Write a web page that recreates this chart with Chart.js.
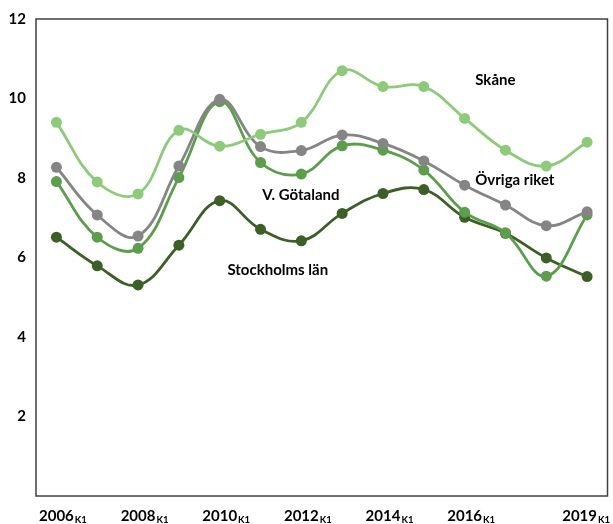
<!DOCTYPE html>
<html>
<head>
<meta charset="utf-8">
<script src="https://cdn.jsdelivr.net/npm/chart.js@4"></script>
<style>
  html, body { margin: 0; padding: 0; background: #fff; }
  #wrap { width: 613px; height: 524px; position: relative; }
</style>
</head>
<body>
<div id="wrap"><canvas id="lineChart"></canvas></div>
<script>
// years on the x axis (K1 = first quarter)
var years = ['2006','2007','2008','2009','2010','2011','2012','2013','2014','2015','2016','2017','2018','2019'];
var shownYears = ['2006','2008','2010','2012','2014','2016','2019'];
var yTicks = [2, 4, 6, 8, 10, 12];

var skane    = [9.4, 7.9, 7.6, 9.2, 8.8, 9.1, 9.4, 10.7, 10.3, 10.3, 9.5, 8.7, 8.3, 8.9];
var ovriga   = [8.27, 7.07, 6.54, 8.3, 9.98, 8.79, 8.69, 9.08, 8.87, 8.43, 7.82, 7.32, 6.8, 7.15];
var vGotaland = [7.91, 6.51, 6.23, 8.01, 9.92, 8.39, 8.1, 8.81, 8.7, 8.2, 7.14, 6.62, 5.53, 7.07];
var stockholm = [6.51, 5.79, 5.31, 6.31, 7.43, 6.71, 6.42, 7.11, 7.61, 7.71, 7.01, 6.61, 5.99, 5.52];

var seriesNames = ['Skåne', 'Övriga riket', 'V. Götaland', 'Stockholms län'];
var seriesColors = ['#8dcb7b', '#858585', '#5c9e4b', '#3b5f27'];

// where the series names sit: [year index, value]
var nameSpots = [[10.26, 10.45], [10.26, 7.95], [5.04, 7.57], [4.19, 5.69]];

var FONT = 'Lato, "Open Sans", sans-serif';

function makeSet(label, values, color) {
    return {
        label: label,
        data: values,
        borderColor: color,
        backgroundColor: color,
        borderWidth: 2.8,
        pointRadius: 5.5,
        pointHoverRadius: 5.5,
        pointBorderWidth: 0,
        tension: 0.4,
        fill: false
    };
}

// frame around plot, x labels with subscript, series names
var extras = {
    id: 'extras',
    afterDraw: function(chart) {
        var ctx = chart.ctx;
        var a = chart.chartArea;
        var xs = chart.scales.x, ys = chart.scales.y;
        ctx.save();
        ctx.strokeStyle = '#404040';
        ctx.lineWidth = 1.5;
        ctx.strokeRect(a.left, a.top, a.right - a.left, a.bottom - a.top);

        ctx.fillStyle = '#000';
        ctx.textBaseline = 'alphabetic';
        shownYears.forEach(function(y) {
            var px = xs.getPixelForValue(years.indexOf(y));
            ctx.font = 'bold 15px ' + FONT;
            var w = ctx.measureText(y).width;
            var left = px - w / 2;
            if (left + w + 16 > chart.width) left = chart.width - w - 16;
            ctx.textAlign = 'left';
            ctx.fillText(y, left, 521);
            ctx.font = 'bold 9.5px ' + FONT;
            ctx.fillText('K1', left + w + 1, 523);
        });

        ctx.font = 'bold 15px ' + FONT;
        ctx.textAlign = 'left';
        ctx.textBaseline = 'middle';
        seriesNames.forEach(function(n, i) {
            var s = nameSpots[i];
            ctx.fillText(n, xs.getPixelForValue(s[0]), ys.getPixelForValue(s[1]));
        });
        ctx.restore();
    }
};

var ctxL = document.getElementById('lineChart').getContext('2d');
var myLineChart = new Chart(ctxL, {
    type: 'line',
    data: {
        labels: years,
        datasets: [
            makeSet(seriesNames[0], skane, seriesColors[0]),
            makeSet(seriesNames[1], ovriga, seriesColors[1]),
            makeSet(seriesNames[2], vGotaland, seriesColors[2]),
            makeSet(seriesNames[3], stockholm, seriesColors[3])
        ]
    },
    options: {
        responsive: true,
        maintainAspectRatio: false,
        animation: false,
        layout: { padding: { top: 19, right: 4, left: 0, bottom: 0 } },
        plugins: {
            legend: { display: false },
            tooltip: { enabled: false }
        },
        scales: {
            x: {
                offset: true,
                grid: { display: false, drawTicks: false },
                border: { display: false },
                ticks: { display: false },
                afterFit: function(s) { s.height = 28; }
            },
            y: {
                min: 0,
                max: 12,
                grid: { display: false, drawTicks: false },
                border: { display: false },
                afterBuildTicks: function(s) {
                    s.ticks = yTicks.map(function(v) { return { value: v }; });
                },
                ticks: {
                    color: '#000',
                    padding: 10,
                    font: { family: FONT, size: 15, weight: 'bold' }
                },
                afterFit: function(s) { s.width = 36; }
            }
        }
    },
    plugins: [extras]
});
</script>
</body>
</html>
